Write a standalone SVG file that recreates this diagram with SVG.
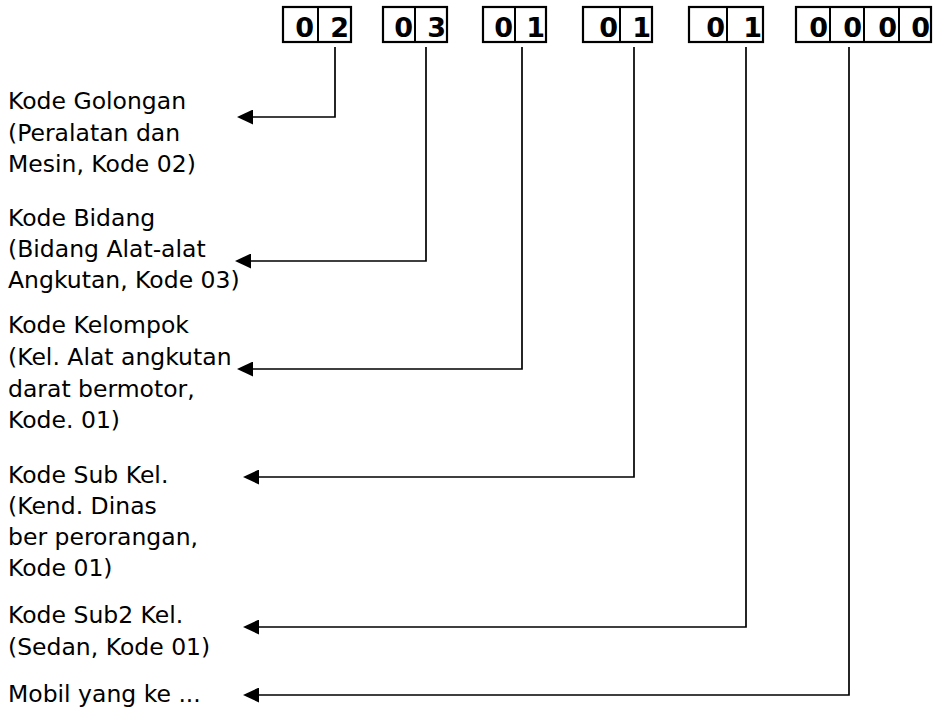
<svg xmlns="http://www.w3.org/2000/svg" width="941" height="708" viewBox="0 0 941 708">
<style>
.box{fill:#fff;stroke:#000;stroke-width:2.2}
.div{stroke:#000;stroke-width:2}
.dig{font-family:"DejaVu Sans","Verdana",sans-serif;font-weight:bold;font-size:27px;fill:#000;text-anchor:end}
.lbl{font-family:"DejaVu Sans","Verdana",sans-serif;font-size:23.5px;fill:#000}
.con{fill:none;stroke:#000;stroke-width:1.7;marker-end:url(#arr)}
</style>
<defs>
<marker id="arr" markerUnits="userSpaceOnUse" viewBox="0 0 16 15" markerWidth="16" markerHeight="15" refX="3" refY="7.5" orient="auto">
<path d="M0,0 L16,7.5 L0,15 z" fill="#000"/>
</marker>
</defs>
<rect width="941" height="708" fill="#fff"/>
<g id="code-02">
<rect class="box" x="283" y="7" width="68" height="35"/>
<line class="div" x1="318" y1="7" x2="318" y2="42"/>
<text class="dig" x="314" y="37">0</text>
<text class="dig" x="349" y="37">2</text>
</g>
<g id="code-03">
<rect class="box" x="383" y="7" width="64" height="35"/>
<line class="div" x1="415" y1="7" x2="415" y2="42"/>
<text class="dig" x="413" y="37">0</text>
<text class="dig" x="446" y="37">3</text>
</g>
<g id="code-01a">
<rect class="box" x="483" y="7" width="63" height="35"/>
<line class="div" x1="515" y1="7" x2="515" y2="42"/>
<text class="dig" x="513" y="37">0</text>
<text class="dig" x="545" y="37">1</text>
</g>
<g id="code-01b">
<rect class="box" x="583" y="7" width="69" height="35"/>
<line class="div" x1="620" y1="7" x2="620" y2="42"/>
<text class="dig" x="618" y="37">0</text>
<text class="dig" x="651" y="37">1</text>
</g>
<g id="code-01c">
<rect class="box" x="689" y="7" width="74" height="35"/>
<line class="div" x1="727" y1="7" x2="727" y2="42"/>
<text class="dig" x="725" y="37">0</text>
<text class="dig" x="762" y="37">1</text>
</g>
<g id="code-0000">
<rect class="box" x="796" y="7" width="135" height="35"/>
<line class="div" x1="830" y1="7" x2="830" y2="42"/>
<line class="div" x1="864" y1="7" x2="864" y2="42"/>
<line class="div" x1="899" y1="7" x2="899" y2="42"/>
<text class="dig" x="828" y="37">0</text>
<text class="dig" x="862" y="37">0</text>
<text class="dig" x="897" y="37">0</text>
<text class="dig" x="930" y="37">0</text>
</g>
<g id="label-golongan">
<text class="lbl" x="8" y="109">Kode Golongan</text>
<text class="lbl" x="8" y="141">(Peralatan dan</text>
<text class="lbl" x="8" y="172">Mesin, Kode 02)</text>
</g>
<g id="label-bidang">
<text class="lbl" x="8" y="226">Kode Bidang</text>
<text class="lbl" x="8" y="257">(Bidang Alat-alat</text>
<text class="lbl" x="8" y="288">Angkutan, Kode 03)</text>
</g>
<g id="label-kelompok">
<text class="lbl" x="8" y="333">Kode Kelompok</text>
<text class="lbl" x="8" y="365">(Kel. Alat angkutan</text>
<text class="lbl" x="8" y="397">darat bermotor,</text>
<text class="lbl" x="8" y="428">Kode. 01)</text>
</g>
<g id="label-subkel">
<text class="lbl" x="8" y="483">Kode Sub Kel.</text>
<text class="lbl" x="8" y="514">(Kend. Dinas</text>
<text class="lbl" x="8" y="545">ber perorangan,</text>
<text class="lbl" x="8" y="576">Kode 01)</text>
</g>
<g id="label-sub2kel">
<text class="lbl" x="8" y="623">Kode Sub2 Kel.</text>
<text class="lbl" x="8" y="655">(Sedan, Kode 01)</text>
</g>
<g id="label-mobil">
<text class="lbl" x="8" y="702">Mobil yang ke ...</text>
</g>
<g id="connectors">
<path class="con" d="M335,47 V117 H250"/>
<path class="con" d="M426,47 V261 H248"/>
<path class="con" d="M522,47 V369 H250"/>
<path class="con" d="M634,47 V477 H256"/>
<path class="con" d="M746,47 V627 H256"/>
<path class="con" d="M849,47 V695 H256"/>
</g>
</svg>
